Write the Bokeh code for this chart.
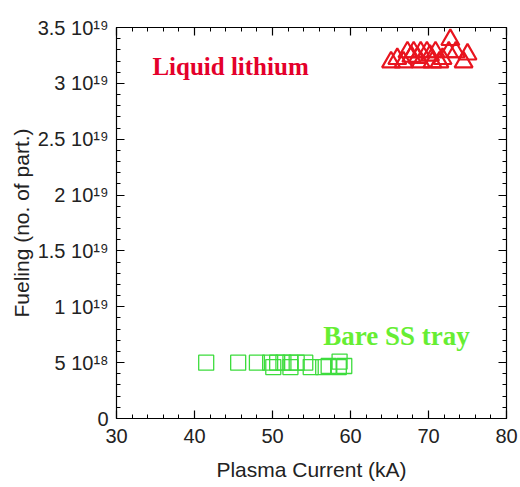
from bokeh.plotting import figure
from bokeh.models import FixedTicker, LinearAxis, CustomJSTickFormatter, Label, Range1d
from bokeh.embed import file_html
from bokeh.resources import INLINE

# Liquid lithium (red triangles)
li_current = [65.2, 66.8, 69.0, 70.5, 71.4, 74.5, 67.3, 68.1, 69.0, 69.8, 70.9, 72.6, 73.5, 75.0, 72.8,
              66.0, 67.8, 68.6, 70.2, 71.8]
li_fueling = [3.19e19, 3.19e19, 3.19e19, 3.19e19, 3.19e19, 3.19e19, 3.28e19, 3.28e19, 3.28e19, 3.28e19,
              3.28e19, 3.28e19, 3.28e19, 3.26e19, 3.39e19,
              3.22e19, 3.24e19, 3.23e19, 3.25e19, 3.22e19]

# Bare SS tray (green squares)
ss_current = [41.5, 45.6, 48.0, 49.7, 50.6, 51.4, 52.3, 53.1, 54.2, 50.1, 52.3, 54.9, 56.5, 58.5, 58.6, 59.2, 57.2]
ss_fueling = [5.0e18, 5.0e18, 5.0e18, 5.0e18, 5.0e18, 5.0e18, 5.0e18, 5.0e18, 5.0e18, 4.6e18, 4.6e18,
              4.6e18, 4.6e18, 4.6e18, 5.1e18, 4.7e18, 4.7e18]

x_major = [30, 40, 50, 60, 70, 80]
x_minor = [32, 34, 36, 38, 42, 44, 46, 48, 52, 54, 56, 58, 62, 64, 66, 68, 72, 74, 76, 78]
y_major = [0, 5e18, 1e19, 1.5e19, 2e19, 2.5e19, 3e19, 3.5e19]
y_minor = [i * 1e18 for i in range(0, 36)]

FONT = "Liberation Sans"

p = figure(width=520, height=487, output_backend="svg", toolbar_location=None,
           x_range=Range1d(30, 80), y_range=Range1d(0, 3.5e19),
           min_border_left=116, min_border_right=14, min_border_top=27, min_border_bottom=69)
p.background_fill_color = "white"
p.border_fill_color = "white"
p.outline_line_color = "black"
p.outline_line_width = 1.2
p.xgrid.visible = False
p.ygrid.visible = False

p.scatter(ss_current, ss_fueling, marker="square", size=15, fill_color=None,
          line_color="#3ddc3d", line_width=1.3)
p.scatter(li_current, li_fueling, marker="triangle", size=18, fill_color=None,
          line_color="#e8141e", line_width=2.2)

yfmt = CustomJSTickFormatter(code="""
if (Math.abs(tick) < 1) return "0";
const e = Math.floor(Math.log10(Math.abs(tick)) + 1e-9);
let m = Math.round(tick / Math.pow(10, e) * 10) / 10;
const sup = {"0":"\u2070","1":"\u00b9","2":"\u00b2","3":"\u00b3","4":"\u2074","5":"\u2075","6":"\u2076","7":"\u2077","8":"\u2078","9":"\u2079"};
const es = String(e).split("").map(c => sup[c]).join("");
return m + " 10" + es;
""")
blank = CustomJSTickFormatter(code="return '';")

def style(ax):
    ax.axis_line_color = "black"
    ax.major_tick_in = 8
    ax.major_tick_out = 0
    ax.minor_tick_in = 4
    ax.minor_tick_out = 0
    ax.major_tick_line_color = "black"
    ax.minor_tick_line_color = "black"
    ax.major_tick_line_width = 1.2
    ax.major_label_text_font = FONT
    ax.major_label_text_font_size = "20px"
    ax.major_label_text_color = "#222222"
    ax.axis_label_text_font = FONT
    ax.axis_label_text_font_size = "21px"
    ax.axis_label_text_font_style = "normal"
    ax.axis_label_text_color = "#222222"

xb = p.xaxis[0]
xb.ticker = FixedTicker(ticks=x_major, minor_ticks=x_minor)
xb.axis_label = "Plasma Current (kA)"
style(xb)
xb.major_label_standoff = 10
xb.axis_label_standoff = 12

yl = p.yaxis[0]
yl.ticker = FixedTicker(ticks=y_major, minor_ticks=y_minor)
yl.formatter = yfmt
yl.axis_label = "Fueling (no. of part.)"
style(yl)
yl.major_label_standoff = 8
yl.axis_label_standoff = 2

xt = LinearAxis(ticker=FixedTicker(ticks=x_major, minor_ticks=x_minor), formatter=blank)
style(xt)
xt.major_label_standoff = 0
p.add_layout(xt, "above")
yr = LinearAxis(ticker=FixedTicker(ticks=y_major, minor_ticks=y_minor), formatter=blank)
style(yr)
yr.major_label_standoff = 0
p.add_layout(yr, "right")

p.add_layout(Label(x=34.6, y=3.15e19, text="Liquid lithium", text_font="Liberation Serif",
                   text_font_style="bold", text_font_size="25px", text_color="#e4002b",
                   text_baseline="middle", text_align="left"))
p.add_layout(Label(x=56.5, y=0.74e19, text="Bare SS tray", text_font="Liberation Serif",
                   text_font_style="bold", text_font_size="27px", text_color="#66ee33",
                   text_baseline="middle", text_align="left"))

open("out.html", "w").write(file_html(p, INLINE))
